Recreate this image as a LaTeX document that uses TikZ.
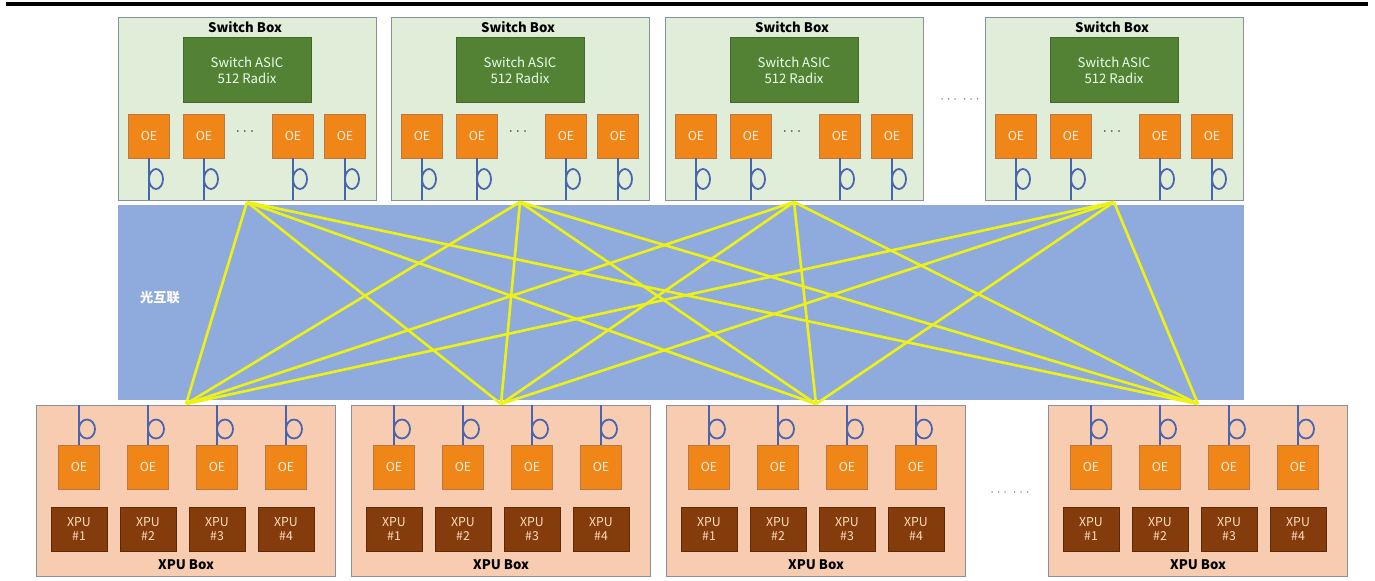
\documentclass[tikz,border=0pt]{standalone}
\usepackage{fontspec}
\setmainfont{Noto Sans CJK SC}
\definecolor{swfill}{RGB}{224,237,216}
\definecolor{boxline}{RGB}{135,145,158}
\definecolor{asicgreen}{RGB}{84,130,53}
\definecolor{oeorange}{RGB}{240,134,24}
\definecolor{oeline}{RGB}{185,120,70}
\definecolor{opticblue}{RGB}{143,170,220}
\definecolor{fiberyellow}{RGB}{238,242,20}
\definecolor{xpufill}{RGB}{248,204,176}
\definecolor{chipbrown}{RGB}{132,60,12}
\definecolor{cableblue}{RGB}{70,100,175}
\tikzset{
  swbox/.style={draw=boxline,fill=swfill,line width=0.8pt,anchor=north west,
    minimum width=5.16cm,minimum height=3.66cm,inner sep=0pt},
  xpubox/.style={draw=boxline,fill=xpufill,line width=0.8pt,anchor=north west,
    minimum width=5.98cm,minimum height=3.42cm,inner sep=0pt},
  asic/.style={draw=asicgreen!80!black,fill=asicgreen,text=green!8,align=center,
    minimum width=2.56cm,minimum height=1.3cm,font=\fontsize{7.5}{9}\selectfont},
  oe/.style={draw=oeline,fill=oeorange,text=orange!12,
    minimum width=0.82cm,minimum height=0.88cm,inner sep=0pt,font=\fontsize{7}{8}\selectfont},
  chip/.style={draw=chipbrown!70!black,fill=chipbrown,text=orange!25,align=center,
    minimum width=1.12cm,minimum height=0.88cm,inner sep=0pt,font=\fontsize{7}{8}\selectfont},
  title/.style={font=\bfseries\fontsize{7.5}{9}\selectfont},
  cable/.style={draw=cableblue,line width=1pt},
  fiber/.style={draw=fiberyellow,line width=1.5pt},
  gap/.style={text=black!60,font=\bfseries\fontsize{7}{8}\selectfont}
}
\begin{document}
\begin{tikzpicture}[x=0.02cm,y=-0.02cm]
  \useasboundingbox (0,0) rectangle (1375,581);
  % rule at the top
  \draw[line width=2pt] (6,4) -- (1368,4);
  % optical interconnect band
  \fill[opticblue] (118,205) rectangle (1244,400);
  \node[text=white,font=\bfseries\fontsize{7.5}{9}\selectfont] (optic) at (160,298) {光互联};
  % switch boxes
  \foreach \i/\x in {1/118,2/391,3/665,4/985} {
    \node[swbox] (sw\i) at (\x,17) {};
    \node[title] (sw\i title) at (\x+127,27) {Switch Box};
    \node[asic] (sw\i asic) at (\x+129,70) {Switch ASIC\\512 Radix};
    \node[text=black!75,font=\bfseries\fontsize{9}{10}\selectfont] (sw\i dots) at (\x+127,132) {$\cdots$};
    \foreach \j/\o in {1/31,2/86,3/175,4/227} {
      \node[oe] (sw\i oe\j) at (\x+\o,136) {OE};
      \coordinate (sw\i port\j) at (\x+\o,200);
      \draw[cable] (sw\i oe\j) -- (sw\i port\j);
      \draw[cable] (\x+\o+7,179) ellipse (0.14cm and 0.2cm);
    }
    \coordinate (t\i) at (\x+129,202);
  }
  \node[gap] (swgap) at (960,100) {$\cdots\ \cdots$};
  % XPU boxes
  \foreach \i/\x in {1/36,2/351,3/666,4/1048} {
    \node[xpubox] (xb\i) at (\x,405) {};
    \node[title] (xb\i title) at (\x+150,565) {XPU Box};
    \foreach \j/\o in {1/43,2/112,3/181,4/250} {
      \node[oe] (xb\i oe\j) at (\x+\o,467) {OE};
      \node[chip] (xb\i xpu\j) at (\x+\o,529) {XPU\\\#\j};
      \coordinate (xb\i port\j) at (\x+\o,405);
      \draw[cable] (xb\i port\j) -- (xb\i oe\j);
      \draw[cable] (\x+\o+8,429) ellipse (0.16cm and 0.19cm);
    }
    \coordinate (b\i) at (\x+150,404);
  }
  \node[gap] (xbgap) at (1010,493) {$\cdots\ \cdots$};
  % full mesh of fibres
  \foreach \i in {1,...,4}
    \foreach \j in {1,...,4}
      \draw[fiber] (t\i) -- (b\j);
\end{tikzpicture}
\end{document}
